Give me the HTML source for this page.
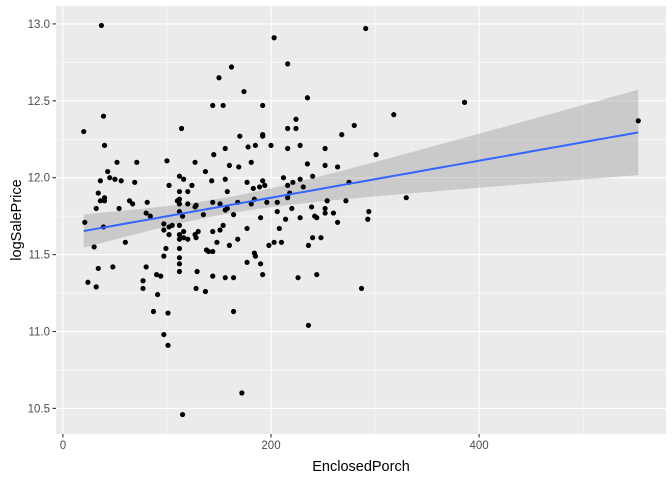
<!DOCTYPE html>
<html><head><meta charset="utf-8">
<style>
html,body{margin:0;padding:0;background:#fff;}
svg{display:block;font-family:"Liberation Sans",Arial,sans-serif;}
</style></head>
<body>
<svg id="chart" width="672" height="480" viewBox="0 0 672 480">
  <rect x="56" y="6" width="610" height="428" fill="#ebebeb"/>
  <g id="grid"></g>
  <g id="ribbon-layer"></g>
  <g id="points"></g>
  <g id="axes"></g>
  <text x="361" y="471" text-anchor="middle" font-size="14.5" fill="#000">EnclosedPorch</text>
  <text transform="translate(21,220) rotate(-90)" text-anchor="middle" font-size="14.5" fill="#000">logSalePrice</text>
</svg>
<script>
const porchValues = [37,39,20,40,52,71,43,45,36,50,56,69,34,40,36,40,32,54,64,67,81,100,114,102,112,116,127,137,143,145,144,150,124,112,120,110,112,120,112,128,127,144,112,80,84,115,135,
21,39,60,30,97,97,102,102,105,112,112,112,116,116,120,127,128,130,144,148,99,97,112,112,112,112,138,140,144,34,48,80,24,32,77,77,90,94,129,144,128,137,91,87,101,97,101,115,
291,203,216,162,174,235,154,192,224,216,224,280,170,192,192,268,156,178,185,200,216,228,252,160,169,181,235,252,264,156,158,177,183,189,192,194,212,216,221,228,231,240,275,
151,156,158,168,181,184,196,206,216,218,254,272,164,190,206,214,220,228,239,242,244,252,252,260,264,294,293,151,154,177,208,160,168,203,210,198,240,248,236,184,185,177,190,192,
156,164,226,244,287,164,236,172,318,386,301,330,553];
const priceValues = [12.99,12.40,12.30,12.21,12.10,12.10,12.04,12.00,11.98,11.99,11.98,11.97,11.90,11.87,11.85,11.85,11.80,11.80,11.85,11.83,11.84,12.11,12.32,11.95,12.01,11.99,12.10,12.04,11.98,12.15,12.47,12.65,11.95,11.91,11.91,11.85,11.86,11.83,11.83,11.82,11.81,11.84,11.78,11.77,11.75,11.75,11.76,
11.71,11.68,11.58,11.55,11.70,11.66,11.68,11.63,11.69,11.69,11.63,11.60,11.65,11.61,11.60,11.63,11.61,11.65,11.65,11.58,11.54,11.49,11.54,11.48,11.44,11.39,11.53,11.52,11.52,11.41,11.42,11.42,11.32,11.29,11.33,11.28,11.37,11.36,11.39,11.36,11.28,11.26,11.24,11.13,11.12,10.98,10.91,10.46,
12.97,12.91,12.74,12.72,12.56,12.52,12.47,12.47,12.38,12.32,12.32,12.34,12.27,12.28,12.27,12.28,12.19,12.20,12.21,12.21,12.19,12.21,12.19,12.08,12.07,12.10,12.09,12.08,12.07,11.99,11.91,11.97,11.93,11.94,11.98,11.95,12.00,11.95,11.97,11.99,11.94,12.01,11.97,
11.83,11.79,11.80,11.84,11.83,11.86,11.84,11.84,11.87,11.90,11.85,11.85,11.76,11.74,11.78,11.73,11.80,11.74,11.81,11.75,11.74,11.80,11.77,11.77,11.71,11.78,11.73,11.66,11.69,11.67,11.67,11.56,11.60,11.58,11.58,11.56,11.61,11.61,11.56,11.51,11.49,11.45,11.44,11.37,
11.35,11.35,11.35,11.37,11.28,11.13,11.04,10.60,12.41,12.49,12.15,11.87,12.37];
const xTickValues = [0,200,400];
const xMinorValues = [100,300,500];
const yTickValues = [10.5,11.0,11.5,12.0,12.5,13.0];
const yTickLabels = ["10.5","11.0","11.5","12.0","12.5","13.0"];
const yMinorValues = [10.75,11.25,11.75,12.25,12.75];

const NS="http://www.w3.org/2000/svg";
const P={l:56,r:666,t:6,b:434};
const xmin0=Math.min(...porchValues), xmax0=Math.max(...porchValues);
const ymin0=Math.min(...priceValues), ymax0=Math.max(...priceValues);
const xd=[xmin0-0.05*(xmax0-xmin0), xmax0+0.05*(xmax0-xmin0)];
const yd=[ymin0-0.05*(ymax0-ymin0), ymax0+0.05*(ymax0-ymin0)];
const xs=v=>P.l+(v-xd[0])/(xd[1]-xd[0])*(P.r-P.l);
const ys=v=>P.b-(v-yd[0])/(yd[1]-yd[0])*(P.b-P.t);
function mk(tag,attrs,parent){const e=document.createElementNS(NS,tag);for(const k in attrs)e.setAttribute(k,attrs[k]);parent.appendChild(e);return e;}

const grid=document.getElementById('grid');
xMinorValues.forEach(v=>{if(xs(v)<P.r){const e=mk('line',{x1:xs(v),x2:xs(v),y1:P.t,y2:P.b,stroke:'#fff','stroke-width':0.55},grid);

}});
yMinorValues.forEach(v=>{const e=mk('line',{x1:P.l,x2:P.r,y1:ys(v),y2:ys(v),stroke:'#fff','stroke-width':0.55},grid);

});
xTickValues.forEach(v=>{const e=mk('line',{x1:xs(v),x2:xs(v),y1:P.t,y2:P.b,stroke:'#fff','stroke-width':1.1},grid);

});
yTickValues.forEach(v=>{const e=mk('line',{x1:P.l,x2:P.r,y1:ys(v),y2:ys(v),stroke:'#fff','stroke-width':1.1},grid);

});

const n=porchValues.length;
const mx=porchValues.reduce((a,b)=>a+b,0)/n, my=priceValues.reduce((a,b)=>a+b,0)/n;
let sxx=0,sxy=0;for(let i=0;i<n;i++){sxx+=(porchValues[i]-mx)**2;sxy+=(porchValues[i]-mx)*(priceValues[i]-my);}
const b1=sxy/sxx,b0=my-b1*mx;
let sse=0;for(let i=0;i<n;i++){sse+=(priceValues[i]-b0-b1*porchValues[i])**2;}
const s=Math.sqrt(sse/(n-2)), tq=1.972;
const rib=document.getElementById('ribbon-layer');
const N=80, up=[],lo=[],ln=[];
for(let k=0;k<=N;k++){const x=xmin0+(xmax0-xmin0)*k/N;const f=b0+b1*x;const se=s*Math.sqrt(1/n+(x-mx)**2/sxx);
up.push(xs(x)+','+ys(f+tq*se));lo.push(xs(x)+','+ys(f-tq*se));ln.push(xs(x)+','+ys(f));}
const ribbon=mk('polygon',{points:up.concat(lo.reverse()).join(' '),fill:'#999999','fill-opacity':0.4},rib);



const pts=document.getElementById('points');
for(let i=0;i<n;i++){const c=mk('circle',{cx:xs(porchValues[i]),cy:ys(priceValues[i]),r:2.6,fill:'#000'},pts);

}

const line=mk('polyline',{points:ln.join(' '),fill:'none',stroke:'#3366FF','stroke-width':2},rib.parentNode);



const ax=document.getElementById('axes');
xTickValues.forEach(v=>{const t=mk('line',{x1:xs(v),x2:xs(v),y1:P.b,y2:P.b+3.5,stroke:'#333','stroke-width':1.1},ax);


const l=mk('text',{x:xs(v),y:P.b+15,'text-anchor':'middle','font-size':'11.5',fill:'#4d4d4d'},ax);l.textContent=String(v);

});
yTickValues.forEach((v,i)=>{const t=mk('line',{x1:P.l-3.5,x2:P.l,y1:ys(v),y2:ys(v),stroke:'#333','stroke-width':1.1},ax);


const l=mk('text',{x:P.l-6,y:ys(v)+4,'text-anchor':'end','font-size':'11.5',fill:'#4d4d4d'},ax);l.textContent=yTickLabels[i];

});
</script>
</body></html>
